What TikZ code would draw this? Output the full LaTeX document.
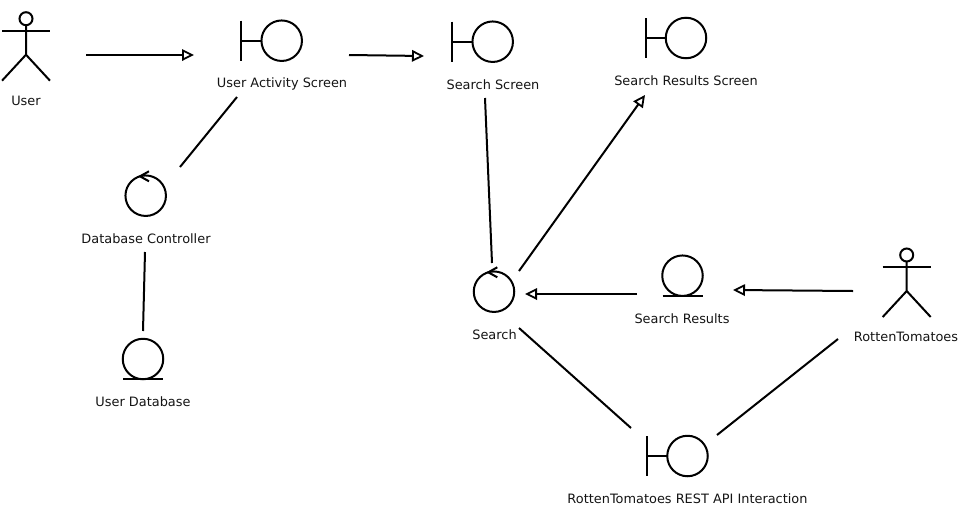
\documentclass[tikz,border=0pt]{standalone}
\usepackage{fontspec}
\setmainfont{DejaVu Sans}
\usetikzlibrary{arrows.meta}
\tikzset{
	symline/.style={line width=2pt, color=black},
	symcircle/.style={circle, draw, line width=2pt, minimum size=40.5pt, inner sep=0pt, outer sep=0pt},
	symlabel/.style={font=\fontsize{12.9}{15}\selectfont, color=black!92, inner sep=1pt},
	assoc/.style={line width=2pt, line cap=butt},
	flow/.style={assoc, -{Triangle[open, length=12pt, width=11.5pt, line width=1.8pt]}}
}
\def\boundarysym(#1)(#2){\node[symcircle] (#1) at (#2) {};
	\draw[symline] (#1.west) -- ++(-20,0) ++(0,-20) -- ++(0,40);}
\def\controlsym(#1)(#2){\node[symcircle] (#1) at (#2) {};
	\draw[symline] (#1) ++(3.3,-24.4) -- ++(-9,5) -- ++(9,5);}
\def\entitysym(#1)(#2){\node[symcircle] (#1) at (#2) {};
	\draw[symline] (#1) ++(-20,20) -- ++(40,0);}
\def\actorsym(#1)(#2){\node[symcircle, minimum size=13pt] (#1) at (#2) {};
	\draw[symline] (#1.south) -- ++(0,29.5) -- ++(-24,26) ++(24,-26) -- ++(24,26);
	\draw[symline] (#1) ++(-24,12) -- ++(48,0);}

\begin{document}
\begin{tikzpicture}[x=1pt, y=-1pt]
	\useasboundingbox (0, 0) rectangle (959, 512);

	%%%%% SYMBOLS %%%%%
	\actorsym(user)(26, 18.7)
	\boundarysym(activity)(281.7, 40.7)
	\boundarysym(searchscreen)(492.7, 41.7)
	\boundarysym(resultsscreen)(686, 38)
	\controlsym(dbcontrol)(145.7, 195.7)
	\entitysym(userdb)(143, 359)
	\controlsym(search)(494, 291.7)
	\entitysym(results)(682.5, 275.7)
	\actorsym(rotten)(906.7, 255)
	\boundarysym(restapi)(687.5, 456)

	%%%%% LABELS %%%%%
	\node[symlabel] (userlabel) at (26, 101) {User};
	\node[symlabel] (activitylabel) at (282, 84) {User Activity Screen};
	\node[symlabel] (dbcontrollabel) at (146, 239) {Database Controller};
	\node[symlabel] (userdblabel) at (143, 402) {User Database};
	\node[symlabel] (searchscreenlabel) at (493, 85) {Search Screen};
	\node[symlabel] (resultsscreenlabel) at (686, 81) {Search Results Screen};
	\node[symlabel] (searchlabel) at (494.5, 335) {Search};
	\node[symlabel] (resultslabel) at (682, 319) {Search Results};
	\node[symlabel] (rottenlabel) at (906, 337) {RottenTomatoes};
	\node[symlabel] (restapilabel) at (687.5, 499) {RottenTomatoes REST API Interaction};

	%%%%% CONNECTOR ENDS %%%%%
	\coordinate (userout) at (86, 55);
	\coordinate (activityin) at (194, 55);
	\coordinate (activityout) at (349, 55);
	\coordinate (searchscreenin) at (424, 56);
	\coordinate (activitydown) at (237, 97);
	\coordinate (dbcontrolup) at (180, 167);
	\coordinate (dbcontroldown) at (145, 252);
	\coordinate (userdbup) at (143, 331);
	\coordinate (searchscreendown) at (485, 98);
	\coordinate (searchup) at (492, 263);
	\coordinate (searchout) at (519, 271);
	\coordinate (resultsscreenin) at (645, 95);
	\coordinate (resultsout) at (637, 294);
	\coordinate (searchin) at (525, 294);
	\coordinate (rottenout) at (853, 291);
	\coordinate (resultsin) at (733, 290);
	\coordinate (searchdown) at (519, 328);
	\coordinate (restapileft) at (631, 428);
	\coordinate (rottendown) at (838, 339);
	\coordinate (restapiright) at (717, 435);

	%%%%% CONNECTORS %%%%%
	\draw[flow] (userout) -- (activityin);
	\draw[flow] (activityout) -- (searchscreenin);
	\draw[assoc] (activitydown) -- (dbcontrolup);
	\draw[assoc] (dbcontroldown) -- (userdbup);
	\draw[assoc] (searchscreendown) -- (searchup);
	\draw[flow] (searchout) -- (resultsscreenin);
	\draw[flow] (resultsout) -- (searchin);
	\draw[flow] (rottenout) -- (resultsin);
	\draw[assoc] (searchdown) -- (restapileft);
	\draw[assoc] (rottendown) -- (restapiright);
\end{tikzpicture}
\end{document}
